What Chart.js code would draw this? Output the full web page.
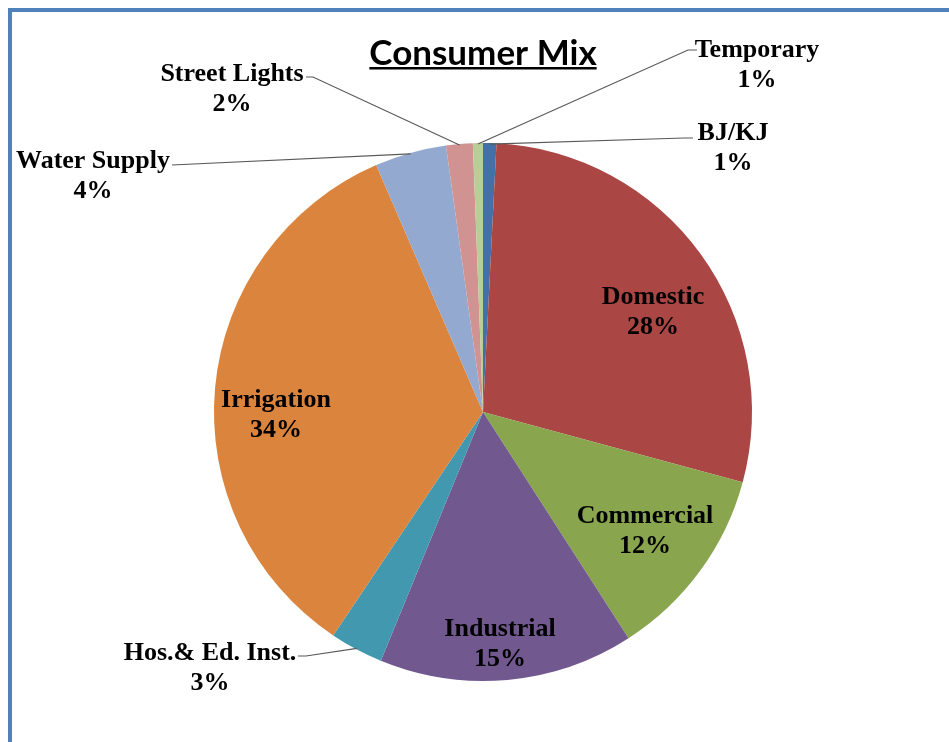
<!DOCTYPE html>
<html>
<head>
<meta charset="utf-8">
<script src="https://cdn.jsdelivr.net/npm/chart.js@4"></script>
<style>
  html, body { margin: 0; padding: 0; background: #fff; overflow: hidden; }
</style>
</head>
<body>
<canvas id="consumerMixChart" width="949" height="742"></canvas>
<script>
// Consumer mix shares, clockwise from 12 o'clock
var categories = ['BJ/KJ', 'Domestic', 'Commercial', 'Industrial', 'Hos.& Ed. Inst.', 'Irrigation', 'Water Supply', 'Street Lights', 'Temporary'];
var shares = [0.8, 28.4, 11.7, 15.3, 3.2, 34.1, 4.3, 1.6, 0.6];
var sliceColors = ['#4470A8', '#AA4643', '#89A54E', '#71588F', '#4198AF', '#DB843D', '#93A9CF', '#D19392', '#B9CD96'];

// where each label sits; outside labels get a leader line back to the slice
var labelLayout = [
    { x: 733, y: 133, elbow: [693, 138], tick: [684, 138] },
    { x: 653, y: 297 },
    { x: 645, y: 516 },
    { x: 500, y: 629 },
    { x: 210, y: 653, elbow: [298, 656], tick: [306, 656] },
    { x: 276, y: 400 },
    { x: 93, y: 161, elbow: [172, 165], tick: [172, 165] },
    { x: 232, y: 74, elbow: [306, 77], tick: [313, 77] },
    { x: 757, y: 50, elbow: [697, 50], tick: [688, 50] }
];

// white page + blue frame + title
Chart.register({
    id: 'frame-and-title',
    beforeDraw: (chart) => {
        const ctx = chart.ctx;
        ctx.save();
        ctx.fillStyle = '#FFFFFF';
        ctx.fillRect(0, 0, chart.width, chart.height);
        ctx.strokeStyle = '#4F81BD';
        ctx.lineWidth = 4;
        ctx.beginPath();
        ctx.moveTo(10, chart.height + 5);
        ctx.lineTo(10, 10);
        ctx.lineTo(chart.width + 5, 10);
        ctx.stroke();

        ctx.fillStyle = '#000';
        ctx.font = 'bold 35px Lato';
        ctx.textAlign = 'center';
        ctx.textBaseline = 'alphabetic';
        ctx.fillText('Consumer Mix', 483, 65);
        const w = ctx.measureText('Consumer Mix').width;
        ctx.fillRect(483 - w / 2, 67, w, 2.5);
        ctx.restore();
    }
});

// data labels with leader lines
Chart.register({
    id: 'slice-labels',
    afterDatasetsDraw: (chart) => {
        const ctx = chart.ctx;
        const meta = chart.getDatasetMeta(0);
        const total = shares.reduce((a, b) => a + b, 0);
        ctx.save();
        meta.data.forEach((arc, i) => {
            const p = arc.getProps(['x', 'y', 'startAngle', 'endAngle', 'outerRadius']);
            const lay = labelLayout[i];
            if (lay.elbow) {
                const mid = (p.startAngle + p.endAngle) / 2;
                const ax = p.x + Math.cos(mid) * (p.outerRadius - 1);
                const ay = p.y + Math.sin(mid) * (p.outerRadius - 1);
                ctx.strokeStyle = '#595959';
                ctx.lineWidth = 1.2;
                ctx.beginPath();
                ctx.moveTo(ax, ay);
                ctx.lineTo(lay.tick[0], lay.tick[1]);
                ctx.lineTo(lay.elbow[0], lay.elbow[1]);
                ctx.stroke();
            }
            ctx.fillStyle = '#000';
            ctx.font = 'bold 26px "Liberation Serif"';
            ctx.textAlign = 'center';
            ctx.textBaseline = 'middle';
            ctx.fillText(categories[i], lay.x, lay.y);
            ctx.fillText(Math.round(shares[i] / total * 100) + '%', lay.x, lay.y + 30);
        });
        ctx.restore();
    }
});

var ctx = document.getElementById('consumerMixChart').getContext('2d');
var consumerMixChart = new Chart(ctx, {
    type: 'pie',
    data: {
        labels: categories,
        datasets: [{
            data: shares,
            backgroundColor: sliceColors,
            borderWidth: 0
        }]
    },
    options: {
        responsive: false,
        animation: false,
        layout: {
            padding: { left: 214, right: 197, top: 143, bottom: 61 }
        },
        plugins: {
            legend: { display: false },
            tooltip: { enabled: false }
        }
    }
});
</script>
</body>
</html>
